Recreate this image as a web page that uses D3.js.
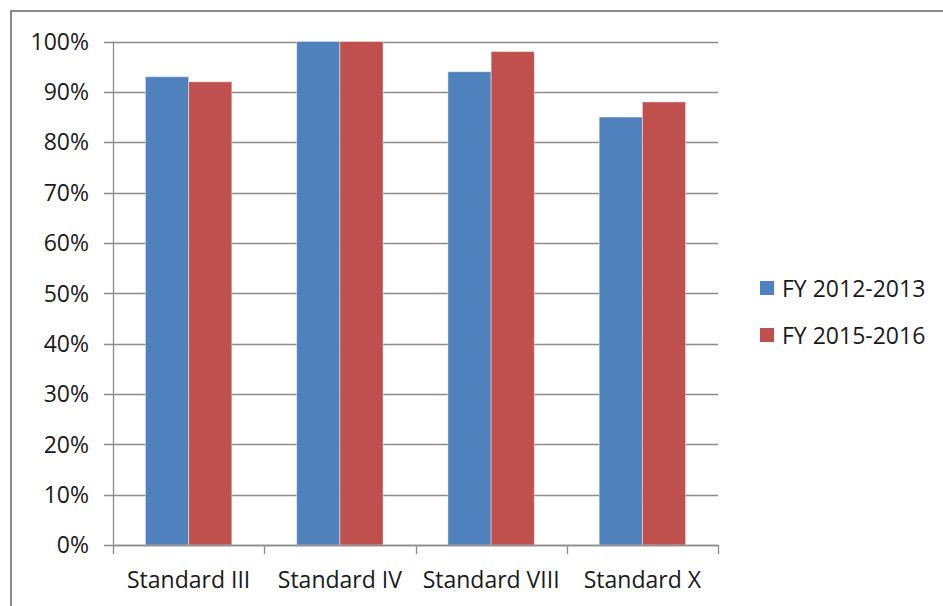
<!DOCTYPE html>
<html>
<head>
<meta charset="utf-8">
<script src="https://cdn.jsdelivr.net/npm/d3@7"></script>
<style>
  html, body { margin: 0; padding: 0; background: #fff; }
  svg { display: block; }
  text { font-family: "Open Sans", Lato, sans-serif; fill: #1a1a1a; }
</style>
</head>
<body>
<svg id="chart" width="943" height="606"></svg>
<script>
// Share of students meeting each standard, two fiscal years
const categories = ["Standard III", "Standard IV", "Standard VIII", "Standard X"];
const seriesNames = ["FY 2012-2013", "FY 2015-2016"];
const fy2012 = [0.93, 1.00, 0.94, 0.85];
const fy2015 = [0.92, 1.00, 0.98, 0.88];
const yTicks = [0, 0.1, 0.2, 0.3, 0.4, 0.5, 0.6, 0.7, 0.8, 0.9, 1.0];
const colors = ["#4F81BD", "#C0504D"];

const series = [fy2012, fy2015];
const svg = d3.select("#chart");
const fontSize = 23;

// outer chart frame (top and left edges visible)
svg.append("rect")
  .attr("x", 11).attr("y", 11)
  .attr("width", 960).attr("height", 620)
  .attr("fill", "none").attr("stroke", "#8a8a8a").attr("stroke-width", 2);

const plot = { left: 113, right: 718, top: 41.5, bottom: 545 };

const x = d3.scaleBand().domain(categories).range([plot.left, plot.right]).padding(0);
// two bars plus a 150% gap per category
const xInner = d3.scaleBand().domain(d3.range(series.length))
  .range([0, x.bandwidth()]).paddingOuter(0.75).paddingInner(0);
const y = d3.scaleLinear().domain([0, 1]).range([plot.bottom, plot.top]);

// gridlines
svg.append("g").selectAll("line").data(yTicks).join("line")
  .attr("x1", plot.left - 9).attr("x2", plot.right)
  .attr("y1", d => Math.round(y(d)) + 0.5).attr("y2", d => Math.round(y(d)) + 0.5)
  .attr("stroke", "#8c8c8c").attr("stroke-width", 1.3);

// y axis line
svg.append("line")
  .attr("x1", plot.left + 0.5).attr("x2", plot.left + 0.5)
  .attr("y1", plot.top).attr("y2", plot.bottom)
  .attr("stroke", "#8c8c8c").attr("stroke-width", 1.3);

// y tick labels
svg.append("g").selectAll("text").data(yTicks).join("text")
  .attr("x", 89).attr("y", d => y(d))
  .attr("dy", "0.36em")
  .attr("text-anchor", "end")
  .attr("font-size", fontSize)
  .text(d3.format(".0%"));

// bars
const groups = svg.append("g").selectAll("g").data(categories).join("g")
  .attr("transform", c => `translate(${x(c)},0)`);
groups.selectAll("rect")
  .data((c, i) => series.map((s, k) => ({ k, v: s[i] })))
  .join("rect")
  .attr("x", d => xInner(d.k))
  .attr("width", xInner.bandwidth())
  .attr("y", d => y(d.v))
  .attr("height", d => y(0) - y(d.v))
  .attr("fill", d => colors[d.k])
  .attr("stroke", "rgba(255,255,255,0.45)").attr("stroke-width", 1);

// x axis baseline and category ticks
svg.append("line")
  .attr("x1", plot.left).attr("x2", plot.right)
  .attr("y1", Math.round(y(0)) + 0.5).attr("y2", Math.round(y(0)) + 0.5)
  .attr("stroke", "#8c8c8c").attr("stroke-width", 1.3);
const tickXs = categories.map(c => x(c)).concat([plot.right]);
svg.append("g").selectAll("line").data(tickXs).join("line")
  .attr("x1", d => Math.round(d) + 0.5).attr("x2", d => Math.round(d) + 0.5)
  .attr("y1", plot.bottom).attr("y2", plot.bottom + 9)
  .attr("stroke", "#8c8c8c").attr("stroke-width", 1.3);

// category labels
svg.append("g").selectAll("text").data(categories).join("text")
  .attr("x", c => x(c) + x.bandwidth() / 2)
  .attr("y", 588)
  .attr("text-anchor", "middle")
  .attr("font-size", fontSize)
  .text(c => c);

// legend
const legend = svg.append("g").selectAll("g").data(seriesNames).join("g")
  .attr("transform", (d, i) => `translate(760,${281 + i * 47})`);
legend.append("rect")
  .attr("width", 14).attr("height", 14)
  .attr("fill", (d, i) => colors[i]);
legend.append("text")
  .attr("x", 22).attr("y", 15.5)
  .attr("font-size", fontSize)
  .text(d => d);
</script>
</body>
</html>
